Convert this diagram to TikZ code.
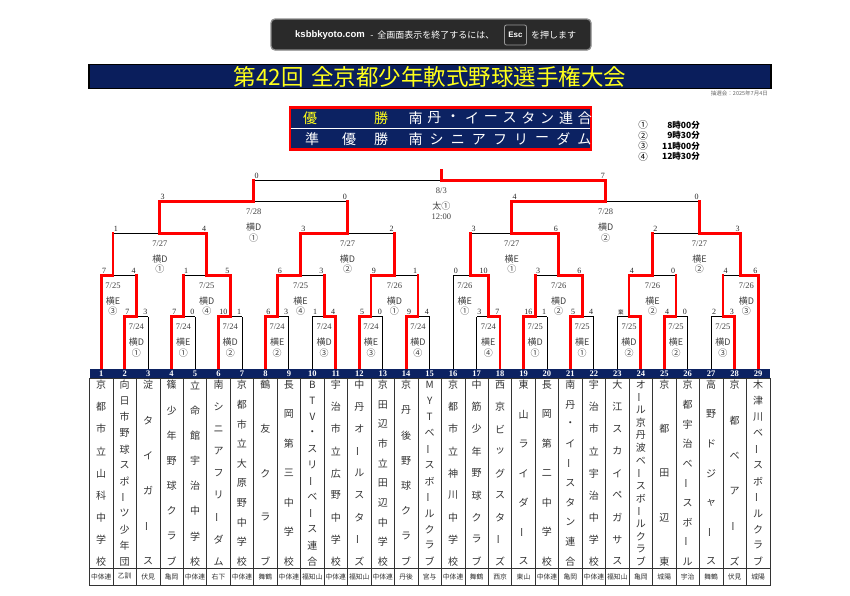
\documentclass[tikz,border=0pt]{standalone}
\usepackage{fontspec}
\setmainfont{Liberation Serif}
\newfontfamily\jp{Noto Sans CJK JP}
\newfontfamily\sansf{Liberation Sans}
\pgfdeclarelayer{fg}
\pgfsetlayers{main,fg}
\definecolor{navy}{HTML}{0C2262}
\definecolor{ttlnavy}{HTML}{0A1E5C}
\definecolor{yel}{HTML}{FFFF1A}
\definecolor{inktxt}{HTML}{333333}
\definecolor{notif}{HTML}{2A2A2A}
\newcount\rsnc
\tikzset{
 autoname/.code={\global\advance\rsnc by 1\relax\tikzset{name=q\the\rsnc}},
 rl/.style={red, line width=2.8pt, line cap=rect, line join=miter},
 bl/.style={black, line width=0.9pt},
 sc/.style={font=\fontsize{8}{9}\selectfont, inner sep=0.6pt, text=black!85},
 dt/.style={font=\fontsize{8.5}{9}\selectfont, inner sep=0pt, text=black!75},
 pl/.style={font=\jp\fontsize{9}{10}\selectfont, inner sep=0pt, text=black!75},
 nm/.style={font=\jp\fontsize{10}{11}\selectfont, inner sep=0pt, text=inktxt},
 rg/.style={font=\jp\fontsize{6.8}{7}\selectfont, inner sep=0pt, text=inktxt},
 hd/.style={font=\bfseries\fontsize{8.5}{9}\selectfont, inner sep=0pt, text=white},
 wt/.style={font=\jp\fontsize{14}{15}\selectfont, inner sep=0pt, text=white},
 lg/.style={font=\jp\bfseries\fontsize{8.5}{9}\selectfont, inner sep=0pt, text=black},
 lgc/.style={font=\jp\fontsize{9.5}{10}\selectfont, inner sep=0pt, text=black},
}
\newcommand\kx[1]{89.5+11.73*(#1)}
\newcommand\VL{\rotatebox[origin=c]{90}{ー}}
\def\LZ{369}\def\LA{316.7}\def\LB{275.5}\def\LC{233.3}\def\LD{201.7}\def\LE{180.7}\def\LT{170.5}
\newcommand\leafR[2]{\begin{pgfonlayer}{fg}\draw[rl] ({\kx{#1}},\LZ-1.4) -- ({\kx{#1}},#2);\end{pgfonlayer}}
\newcommand\leafB[2]{\draw[bl] ({\kx{#1}},\LZ) -- ({\kx{#1}},#2);}
\newcommand\bm[8]{%
 \draw[bl] ({\kx{#2}},#1) -- ({\kx{#3}},#1);
 \begin{pgfonlayer}{fg}\draw[rl] ({\kx{#6}},#1) -- ({\kx{#4}},#1) -- ({\kx{#4}},#5);\end{pgfonlayer}
 \node[sc, anchor=south west] at ({\kx{#2}},#1-1.2) {#7};
 \node[sc, anchor=south east] at ({\kx{#3}},#1-1.2) {#8};}
\newcommand\lab[5]{%
 \node[dt] at ({\kx{#1}},#2+10) {#3};
 \node[pl] at ({\kx{#1}},#2+25.5) {#4};
 \node[pl] at ({\kx{#1}},#2+36) {#5};}
\newcommand\vname[3]{\foreach \ch [count=\j] in {#3} {\node[nm] at ({\kx{2*#1-1}},{385+(\j-1)*176.5/(#2-1)}) {\ch};}}
\begin{document}
\begin{tikzpicture}[x=1pt,y=-1pt, every node/.append style={autoname}]
\useasboundingbox (0,0) rectangle (850,595);
\fill[white] (0,0) rectangle (850,595);
% fullscreen notice
\node[fill=notif, draw=black!45, line width=1.3pt, rounded corners=4pt, minimum width=320, minimum height=31, inner sep=0] (notice) at (431,34.5) {};
\node[anchor=west, inner sep=0, text=white, font=\sansf\bfseries\fontsize{9.5}{10}\selectfont] (site) at (295,35) {ksbbkyoto.com};
\node[anchor=west, inner sep=0, text=white, font=\jp\fontsize{9}{10}\selectfont] (msg) at ([xshift=5pt]site.east) {-\hspace{4pt}全画面表示を終了するには、};
\node[draw=black!40, fill=black!85, rounded corners=2pt, line width=0.8pt, minimum width=22, minimum height=20, inner sep=0, text=white, font=\sansf\bfseries\fontsize{8}{9}\selectfont] (esc) at (515.5,35) {Esc};
\node[anchor=west, inner sep=0, text=white, font=\jp\fontsize{9}{10}\selectfont] (press) at ([xshift=4pt]esc.east) {を押します};
% title
\node[fill=ttlnavy, draw=black, line width=1.3pt, minimum width=682, minimum height=24.5, inner sep=0] (title) at (430,76.5) {};
\node[inner sep=0, text=yel, font=\jp\fontsize{22.5}{24}\selectfont] (titletext) at (430,77) {第42回\hspace{0.35em}全京都少年軟式野球選手権大会};
\node[anchor=east, inner sep=0, text=black!60, font=\jp\fontsize{5.5}{6}\selectfont] (drawdate) at (768,93) {抽選会：2025年7月4日};
% winner box
\node[fill=navy, draw=red, line width=2.6pt, minimum width=301, minimum height=41.5, inner sep=0] (wbox) at (440.5,128.5) {};
\draw[white, line width=1.4pt] ([xshift=2pt]wbox.west) -- ([xshift=-2pt]wbox.east);
\node[wt, text=yel] (w1) at (310,118) {優};
\node[wt, text=yel] (w2) at (381,118) {勝};
\foreach \ch [count=\j] in {南,丹,・,イ,ー,ス,タ,ン,連,合} {\node[wt] at ({415.6+(\j-1)*18.8},118) {\ch};}
\node[wt] (r1) at (312,139.5) {準};
\node[wt] (r2) at (349,139.5) {優};
\node[wt] (r3) at (381,139.5) {勝};
\foreach \ch [count=\j] in {南,シ,ニ,ア,フ,リ,ー,ダ,ム} {\node[wt] at ({415.6+(\j-1)*21.1},139.5) {\ch};}
% legend
\foreach \cn/\tm/\yy in {①/8時00分/125, ②/9時30分/135.5, ③/11時00分/146, ④/12時30分/156.5} {
 \node[lgc] at (643,\yy) {\cn};
 \node[lg, anchor=east] at (700,\yy) {\tm};
}
% table
\fill[navy] ({\kx{0}},369) rectangle ({\kx{58}},378);
\foreach \i in {1,...,29} {
 \draw[black!80, line width=0.7pt] ({\kx{2*\i-2}},378) rectangle ({\kx{2*\i}},568);
 \draw[black!80, line width=0.7pt] ({\kx{2*\i-2}},568) rectangle ({\kx{2*\i}},585);
 \node[hd] at ({\kx{2*\i-1}},373.7) {\i};
}
\foreach \i/\rgn in {1/中体連,2/乙訓,3/伏見,4/亀岡,5/中体連,6/右下,7/中体連,8/舞鶴,9/中体連,10/福知山,11/中体連,12/福知山,13/中体連,14/丹後,15/宮与,16/中体連,17/舞鶴,18/西京,19/東山,20/中体連,21/亀岡,22/中体連,23/福知山,24/亀岡,25/城陽,26/宇治,27/舞鶴,28/伏見,29/城陽}
 {\node[rg] at ({\kx{2*\i-1}},576.5) {\rgn};}
\vname{1}{9}{京,都,市,立,山,科,中,学,校}
\vname{2}{12}{向,日,市,野,球,ス,ポ,\VL,ツ,少,年,団}
\vname{3}{6}{淀,タ,イ,ガ,\VL,ス}
\vname{4}{8}{篠,少,年,野,球,ク,ラ,ブ}
\vname{5}{8}{立,命,館,宇,治,中,学,校}
\vname{6}{9}{南,シ,ニ,ア,フ,リ,\VL,ダ,ム}
\vname{7}{10}{京,都,市,立,大,原,野,中,学,校}
\vname{8}{5}{鶴,友,ク,ラ,ブ}
\vname{9}{7}{長,岡,第,三,中,学,校}
\vname{10}{12}{B,T,V,・,ス,リ,\VL,ベ,\VL,ス,連,合}
\vname{11}{9}{宇,治,市,立,広,野,中,学,校}
\vname{12}{9}{中,丹,オ,\VL,ル,ス,タ,\VL,ズ}
\vname{13}{10}{京,田,辺,市,立,田,辺,中,学,校}
\vname{14}{8}{京,丹,後,野,球,ク,ラ,ブ}
\vname{15}{12}{M,Y,T,ベ,\VL,ス,ボ,\VL,ル,ク,ラ,ブ}
\vname{16}{9}{京,都,市,立,神,川,中,学,校}
\vname{17}{9}{中,筋,少,年,野,球,ク,ラ,ブ}
\vname{18}{9}{西,京,ビ,ッ,グ,ス,タ,\VL,ズ}
\vname{19}{7}{東,山,ラ,イ,ダ,\VL,ス}
\vname{20}{7}{長,岡,第,二,中,学,校}
\vname{21}{10}{南,丹,・,イ,\VL,ス,タ,ン,連,合}
\vname{22}{9}{宇,治,市,立,宇,治,中,学,校}
\vname{23}{9}{大,江,ス,カ,イ,ペ,ガ,サ,ス}
\vname{24}{15}{オ,\VL,ル,京,丹,波,ベ,\VL,ス,ボ,\VL,ル,ク,ラ,ブ}
\vname{25}{5}{京,都,田,辺,東}
\vname{26}{10}{京,都,宇,治,ベ,\VL,ス,ボ,\VL,ル}
\vname{27}{7}{高,野,ド,ジ,ャ,\VL,ス}
\vname{28}{6}{京,都,ベ,ア,\VL,ズ}
\vname{29}{12}{木,津,川,ベ,\VL,ス,ボ,\VL,ル,ク,ラ,ブ}
% leaves
\foreach \k in {1,57} {\leafR{\k}{\LB}}
\foreach \k in {3,7,11,15,21,23,27,35,37,41,47,49,55} {\leafR{\k}{\LA}}
\foreach \k in {5,9,13,17,19,25,29,33,39,43,45,51,53} {\leafB{\k}{\LA}}
\leafB{31}{\LB}
% left half matches
\bm{\LA}{3}{5}{4}{\LB}{3}{7}{3}
\bm{\LA}{7}{9}{8}{\LB}{7}{7}{0}
\bm{\LA}{11}{13}{12}{\LB}{11}{10}{1}
\bm{\LA}{15}{17}{16}{\LB}{15}{6}{3}
\bm{\LA}{19}{21}{20}{\LB}{21}{1}{4}
\bm{\LA}{23}{25}{24}{\LB}{23}{5}{0}
\bm{\LA}{27}{29}{28}{\LB}{27}{9}{4}
\bm{\LB}{1}{4}{2}{\LC}{1}{7}{4}
\bm{\LB}{8}{12}{10}{\LC}{12}{1}{5}
\bm{\LB}{16}{20}{18}{\LC}{16}{6}{3}
\bm{\LB}{24}{28}{26}{\LC}{24}{9}{1}
\bm{\LC}{2}{10}{6}{\LD}{10}{1}{4}
\bm{\LC}{18}{26}{22}{\LD}{18}{3}{2}
\bm{\LD}{6}{22}{14}{\LE}{6}{3}{0}
% right half matches
\bm{\LA}{33}{35}{34}{\LB}{35}{3}{7}
\bm{\LA}{37}{39}{38}{\LB}{37}{16}{1}
\bm{\LA}{41}{43}{42}{\LB}{41}{5}{4}
\bm{\LA}{45}{47}{46}{\LB}{47}{\jp\fontsize{5.5}{6}\selectfont 棄}{}
\bm{\LA}{49}{51}{50}{\LB}{49}{4}{0}
\bm{\LA}{53}{55}{54}{\LB}{55}{2}{3}
\bm{\LB}{31}{34}{32.5}{\LC}{34}{0}{10}
\bm{\LB}{38}{42}{40}{\LC}{42}{3}{6}
\bm{\LB}{46}{50}{48}{\LC}{46}{4}{0}
\bm{\LB}{54}{57}{55.5}{\LC}{57}{4}{6}
\bm{\LC}{32.5}{40}{36}{\LD}{40}{3}{6}
\bm{\LC}{48}{55.5}{52}{\LD}{55.5}{2}{3}
\bm{\LD}{36}{52}{44}{\LE}{36}{4}{0}
% final
\bm{\LE}{14}{44}{30}{\LT}{44}{0}{7}
% labels
\lab{4}{\LA}{7/24}{横D}{①}
\lab{8}{\LA}{7/24}{横E}{①}
\lab{12}{\LA}{7/24}{横D}{②}
\lab{16}{\LA}{7/24}{横E}{②}
\lab{20}{\LA}{7/24}{横D}{③}
\lab{24}{\LA}{7/24}{横E}{③}
\lab{28}{\LA}{7/24}{横D}{④}
\lab{2}{\LB}{7/25}{横E}{③}
\lab{10}{\LB}{7/25}{横D}{④}
\lab{18}{\LB}{7/25}{横E}{④}
\lab{26}{\LB}{7/26}{横D}{①}
\lab{6}{\LC}{7/27}{横D}{①}
\lab{22}{\LC}{7/27}{横D}{②}
\lab{14}{\LD}{7/28}{横D}{①}
\lab{34}{\LA}{7/24}{横E}{④}
\lab{38}{\LA}{7/25}{横D}{①}
\lab{42}{\LA}{7/25}{横E}{①}
\lab{46}{\LA}{7/25}{横D}{②}
\lab{50}{\LA}{7/25}{横E}{②}
\lab{54}{\LA}{7/25}{横D}{③}
\lab{32}{\LB}{7/26}{横E}{①}
\lab{40}{\LB}{7/26}{横D}{②}
\lab{48}{\LB}{7/26}{横E}{②}
\lab{56}{\LB}{7/26}{横D}{③}
\lab{36}{\LC}{7/27}{横E}{①}
\lab{52}{\LC}{7/27}{横E}{②}
\lab{44}{\LD}{7/28}{横D}{②}
\node[dt] (fdate) at ({\kx{30}},\LE+10) {8/3};
\node[pl] (fplace) at ({\kx{30}},\LE+25) {太①};
\node[dt] (ftime) at ({\kx{30}},\LE+36) {12:00};
\end{tikzpicture}
\end{document}
